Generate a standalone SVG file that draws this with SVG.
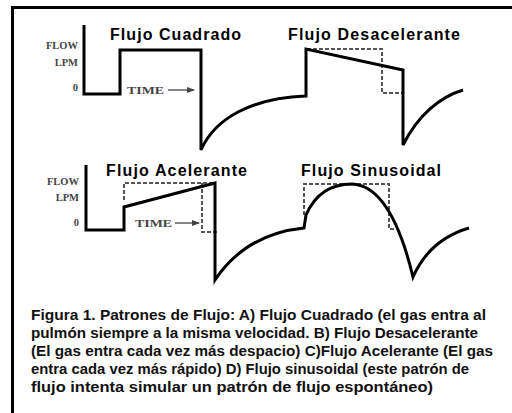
<svg xmlns="http://www.w3.org/2000/svg" width="512" height="413" viewBox="0 0 512 413">
<style>
.title{font-family:"Liberation Sans",Arial,sans-serif;font-weight:bold;font-size:16px;fill:#000}
.ax{font-family:"Liberation Serif","Times New Roman",serif;font-size:10.5px;fill:#444;font-weight:bold}
.cap{font-family:"Liberation Sans",Arial,sans-serif;font-weight:bold;font-size:15px;fill:#111}
.wave{fill:none;stroke:#000;stroke-width:3;stroke-linejoin:miter}
.dash{fill:none;stroke:#555;stroke-width:2;stroke-dasharray:4 2}
.arr{fill:none;stroke:#444;stroke-width:1.3}
</style>
<defs>
<marker id="ah" markerWidth="8" markerHeight="6" refX="7" refY="3" orient="auto" markerUnits="userSpaceOnUse"><path d="M0,0 L8,3 L0,6 Z" fill="#444"/></marker>
</defs>
<rect width="512" height="413" fill="#fff"/>
<rect x="12.5" y="7.5" width="600" height="600" fill="none" stroke="#000" stroke-width="3"/>

<g id="panel-cuadrado">
<text class="title" x="110" y="40" textLength="131" lengthAdjust="spacing">Flujo Cuadrado</text>
<text class="ax" x="78" y="49" text-anchor="end">FLOW</text>
<text class="ax" x="78" y="66" text-anchor="end">LPM</text>
<text class="ax" x="78" y="91" text-anchor="end">0</text>
<text class="ax" x="127" y="94" textLength="37" lengthAdjust="spacingAndGlyphs">TIME</text>
<line class="arr" x1="168" y1="90" x2="194" y2="90" marker-end="url(#ah)"/>
</g>

<g id="panel-desacelerante">
<text class="title" x="288" y="40" textLength="172" lengthAdjust="spacing">Flujo Desacelerante</text>
</g>

<g id="panel-acelerante">
<text class="title" x="106" y="176" textLength="141" lengthAdjust="spacing">Flujo Acelerante</text>
<text class="ax" x="79" y="185" text-anchor="end">FLOW</text>
<text class="ax" x="79" y="201" text-anchor="end">LPM</text>
<text class="ax" x="79" y="226" text-anchor="end">0</text>
<text class="ax" x="135" y="227" textLength="37" lengthAdjust="spacingAndGlyphs">TIME</text>
<line class="arr" x1="175" y1="223" x2="199" y2="223" marker-end="url(#ah)"/>
</g>

<g id="panel-sinusoidal">
<text class="title" x="301" y="176" textLength="140" lengthAdjust="spacing">Flujo Sinusoidal</text>
</g>

<g id="connectors">
<path class="dash" d="M307,49 H382 V93 H403"/>
<path class="dash" d="M124,200 V183 H213 M202,183 V232 H217"/>
<path class="dash" d="M304,215 V184 H389 V229 H394"/>
<path class="wave" d="M84,25 V94 H120 V50 H201 V150 C215,118 252,98 306,96 V49 L403,70 V145 C418,115 440,97 463,90"/>
<path class="wave" d="M86,165 V230 H124 V207 L215,183 V280 C235,250 265,232 304,228 L306,215 C316,192 333,184 352,184 C378,185 398,215 413,277 C425,250 445,235 469,228"/>
</g>

<g id="caption">
<text class="cap" x="31" y="320" textLength="455" lengthAdjust="spacingAndGlyphs">Figura 1. Patrones de Flujo: A) Flujo Cuadrado (el gas entra al</text>
<text class="cap" x="31" y="338" textLength="447" lengthAdjust="spacingAndGlyphs">pulmón siempre a la misma velocidad. B) Flujo Desacelerante</text>
<text class="cap" x="31" y="356" textLength="462" lengthAdjust="spacingAndGlyphs">(El gas entra cada vez más despacio) C)Flujo Acelerante (El gas</text>
<text class="cap" x="31" y="374" textLength="438" lengthAdjust="spacingAndGlyphs">entra cada vez más rápido) D) Flujo sinusoidal (este patrón de</text>
<text class="cap" x="31" y="392" textLength="402" lengthAdjust="spacingAndGlyphs">flujo intenta simular un patrón de flujo espontáneo)</text>
</g>
</svg>
